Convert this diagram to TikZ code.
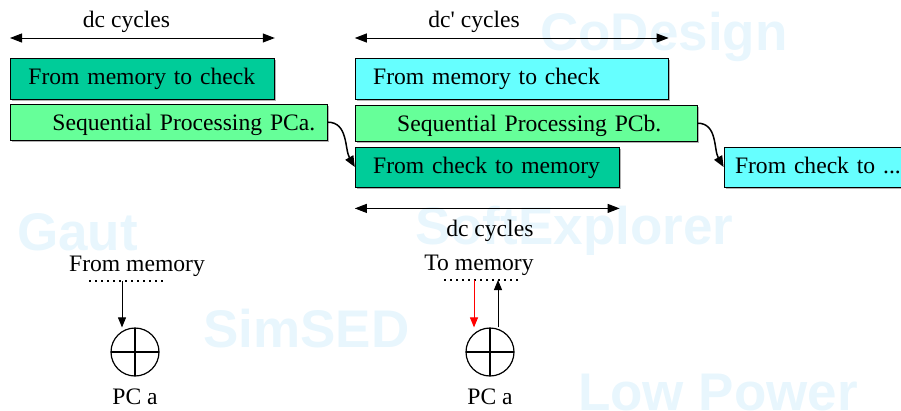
\documentclass[tikz,border=0pt]{standalone}
\usepackage{fontspec}
\setmainfont{Liberation Serif}
\newfontfamily\wmfamily{Liberation Sans}
\usepackage{tikz}
\usetikzlibrary{arrows.meta, positioning, shadows, calc}
\definecolor{memteal}{RGB}{0,204,153}
\definecolor{seqgreen}{RGB}{102,255,153}
\definecolor{chkcyan}{RGB}{102,255,255}
\definecolor{wmblue}{RGB}{232,246,253}

\begin{document}
\begin{tikzpicture}[
        x=1pt, y=1pt,
        stagebox/.style={rectangle, draw, line width=0.8pt, anchor=north west, inner xsep=0pt, inner ysep=0pt, align=left, text height=26pt, font=\fontsize{23.6}{28}\selectfont, drop shadow={shadow xshift=1.5pt, shadow yshift=-1.5pt, fill=gray!60, opacity=1}},
        toprow/.style={stagebox, text depth=15pt},
        midrow/.style={stagebox, text depth=10pt, fill=seqgreen},
        lowrow/.style={stagebox, text depth=14pt},
        txt/.style={font=\fontsize{23.6}{28}\selectfont},
        watermark/.style={anchor=base west, inner sep=0pt, text=wmblue, font=\wmfamily\bfseries\fontsize{53}{60}\selectfont},
        dimline/.style={{Triangle[length=12pt,width=9pt]}-{Triangle[length=12pt,width=9pt]}, line width=1pt},
        hop/.style={-{Triangle[length=11pt,width=9pt]}, line width=1.5pt},
        flow/.style={-{Triangle[length=10pt,width=8pt]}, line width=1pt},
        port/.style={line width=2pt, dash pattern=on 2pt off 4pt},
        pc/.style={circle, draw, line width=1.2pt, minimum size=48pt, inner sep=0pt,
            path picture={\draw[line width=1.2pt] (path picture bounding box.north) -- (path picture bounding box.south)
                (path picture bounding box.west) -- (path picture bounding box.east);}}
    ]
        \useasboundingbox (0,0) rectangle (901,-410);

        % background marks
        \node[watermark] (wmcod) at (540,-50) {CoDesign};
        \node[watermark] (wmgaut) at (17,-250) {Gaut};
        \node[watermark] (wmsoft) at (415,-244) {SoftExplorer};
        \node[watermark] (wmsim) at (203,-347) {SimSED};
        \node[watermark] (wmlow) at (578,-410) {Low Power};

        % PC a
        \node[toprow, fill=memteal, text width=264pt] (memchka) at (10,-58) {\hspace*{18pt}From memory to check};
        \node[midrow, text width=317pt, below=4pt of memchka.south west, anchor=north west] (seqa) {\hspace*{42pt}Sequential Processing PCa.};

        % PC b
        \node[toprow, fill=chkcyan, text width=313pt, right=80pt of memchka.north east, anchor=north west] (memchkb) {\hspace*{18pt}From memory to check};
        \node[midrow, text width=342pt, below=5pt of memchkb.south west, anchor=north west] (seqb) {\hspace*{42pt}Sequential Processing PCb.};
        \node[lowrow, fill=memteal, text width=264pt, below=5pt of seqb.south west, anchor=north west] (chkmemb) {\hspace*{18pt}From check to memory};
        \node[lowrow, fill=chkcyan, text width=178pt, right=104pt of chkmemb.north east, anchor=north west] (chknext) {\hspace*{11pt}\mbox{From check to ...}};

        \draw[dimline] ([yshift=20pt]memchka.north west) -- node[txt, above=2pt, pos=0.44]{dc cycles} ([yshift=20pt]memchka.north east);
        \draw[dimline] ([yshift=20pt]memchkb.north west) -- node[txt, above=2pt, pos=0.38]{dc\textquotesingle{} cycles} ([yshift=20pt]memchkb.north east);
        \draw[dimline] ([yshift=-21pt]chkmemb.south west) -- node[txt, below=8pt, pos=0.51]{dc cycles} ([yshift=-21pt]chkmemb.south east);

        \draw[hop] (seqa.east) to[out=0, in=120] (chkmemb.west);
        \draw[hop] (seqb.east) to[out=0, in=120] (chknext.west);

        % reading PC a
        \node[txt, anchor=base] (frommem) at (137,-271) {From memory};
        \draw[port] (89,-281) -- (164,-281);
        \coordinate (frommemport) at (122,-281);
        \node[pc] (pcleft) at (135,-352) {};
        \node[txt, below=9pt of pcleft] (pcaleft) {PC a};
        \draw[flow] (frommemport) -- (frommemport |- pcleft.north);

        % writing PC a
        \node[txt, anchor=base] (tomem) at (479,-270) {To memory};
        \draw[port] (444,-280) -- (520,-280);
        \coordinate (tomemdown) at (474,-280);
        \coordinate (tomemup) at (498,-280);
        \node[pc] (pcright) at (490,-352) {};
        \node[txt, below=9pt of pcright] (pcaright) {PC a};
        \draw[flow, red] (tomemdown) -- (tomemdown |- pcright.north);
        \draw[flow] (tomemup |- pcright.north) -- (tomemup);
    \end{tikzpicture}
\end{document}
